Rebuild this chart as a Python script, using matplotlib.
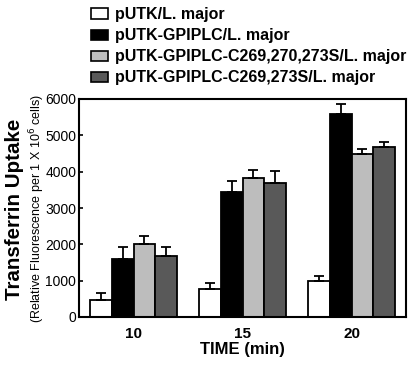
import matplotlib
matplotlib.use("Agg")
import matplotlib.pyplot as plt
import numpy as np
from matplotlib.patches import Patch

plt.rcParams['font.family'] = ['Liberation Sans', 'DejaVu Sans']

times = ["10", "15", "20"]
series = ["pUTK/L. major", "pUTK-GPIPLC/L. major",
          "pUTK-GPIPLC-C269,270,273S/L. major", "pUTK-GPIPLC-C269,273S/L. major"]
values = [
    [480, 780, 980],
    [1590, 3430, 5600],
    [2000, 3820, 4480],
    [1690, 3680, 4690],
]
errors = [
    [170, 160, 150],
    [330, 320, 250],
    [220, 220, 140],
    [240, 330, 140],
]
colors = ["#ffffff", "#000000", "#bdbdbd", "#595959"]

fig = plt.figure(figsize=(4.12, 3.68), dpi=100)
ax = fig.add_axes([79/412, 1-317/368, (406-79)/412, (317-99)/368])

x = np.arange(len(times))
w = 0.2
for i in range(4):
    ax.bar(x + (i - 1.5) * w, values[i], w, color=colors[i], edgecolor='black',
           linewidth=1.3, yerr=[np.zeros(3), errors[i]], capsize=3.5,
           error_kw=dict(elinewidth=1.3, capthick=1.3, ecolor='black'), zorder=2)

ax.set_xlim(-0.5, 2.5)
ax.set_ylim(0, 6000)
ax.set_yticks(range(0, 6001, 1000))
ax.tick_params(axis='y', direction='in', length=3, width=1.2, labelsize=10, pad=2)
ax.set_xticks(x)
ax.set_xticklabels(times, fontweight='bold', fontsize=11)
ax.tick_params(axis='x', length=0, pad=7)
for s in ax.spines.values():
    s.set_linewidth(1.5)
ax.set_xlabel("TIME (min)", fontweight='bold', fontsize=12, labelpad=1)

fig.text(15/412, 1-209/368, "Transferrin Uptake", rotation=90, fontweight='bold',
         fontsize=14.8, ha='center', va='center')
fig.text(37/412, 1-209/368, "(Relative Fluorescence per 1 X 10$^6$ cells)", rotation=90,
         fontsize=9, ha='center', va='center')

handles = [Patch(facecolor=c, edgecolor='black', linewidth=1.2) for c in colors]
fig.legend(handles, series, loc='upper left', bbox_to_anchor=(84/412, 1.0),
           frameon=False, prop=dict(weight='bold', size=11.5), handlelength=1.05,
           handleheight=0.6, handletextpad=0.45, labelspacing=0.38, borderaxespad=0.05)

fig.savefig("out.png", dpi=100)
